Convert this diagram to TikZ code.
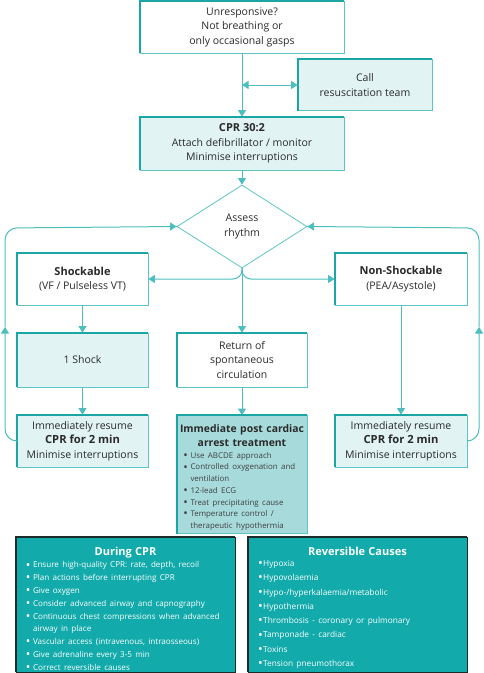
\documentclass[tikz,border=0pt]{standalone}
\usepackage{fontspec}
\setmainfont{Open Sans}
\usetikzlibrary{arrows.meta,shapes.geometric}
\definecolor{tline}{HTML}{4DBDBD}
\definecolor{tthin}{HTML}{5CC4C4}
\definecolor{tthick}{HTML}{1BA6A6}
\definecolor{lfill}{HTML}{E1F3F3}
\definecolor{pfill}{HTML}{A7DBDB}
\definecolor{dfill}{HTML}{12AAAA}
\definecolor{dborder}{HTML}{1D2A2A}
\definecolor{txt}{HTML}{2A2A2A}
\newcommand\bigdot{\raisebox{-0.25ex}{\scalebox{1.5}{\textbullet}}}
\newcommand\mybul[1]{\par\noindent\hangindent=7pt\hangafter=1\makebox[7pt][l]{\bigdot}#1}
\newcommand\tightbul[1]{\par\noindent\bigdot\kern0.5pt#1}
\newcommand\thickedge[2]{\draw[line width=2pt,#2] (#1.south west) -- (#1.north west) -- (#1.north east);}
\begin{document}
\begin{tikzpicture}[x=1pt,y=-1pt,
  bx/.style={draw=tthin, line width=0.8pt, fill=white, rectangle, align=center, inner sep=2pt, text=txt,
    font=\fontsize{10.5}{14.5}\selectfont},
  lbx/.style={bx, fill=lfill},
  ln/.style={draw=tline, line width=1pt},
  arr/.style={ln, -{Triangle[width=8pt,length=6.5pt]}},
  dbx/.style={draw=dborder, line width=0.8pt, fill=dfill, rectangle, inner sep=0pt,
    minimum width=219, minimum height=135},
  dtxt/.style={anchor=north, text=white, inner sep=0pt, text width=199pt, align=center}]
\useasboundingbox (0,0) rectangle (484,673);

\node[bx, minimum width=204, minimum height=52] (unresp) at (242,27) {Unresponsive?\\Not breathing or\\only occasional gasps};
\node[lbx, minimum width=134, minimum height=51] (call) at (365,85) {Call\\resuscitation team};
\node[lbx, minimum width=204, minimum height=53] (cpr) at (242,143.5) {{\fontsize{11}{14.5}\selectfont\bfseries CPR 30:2}\\Attach defibrillator / monitor\\Minimise interruptions};
\node[draw=tthin, line width=0.8pt, diamond, minimum width=130, minimum height=83, inner sep=0pt, align=center, text=txt,
  font=\fontsize{10.5}{14.5}\selectfont] (assess) at (242,226.5) {Assess\\rhythm};
\node[bx, minimum width=131, minimum height=52] (shock) at (82.5,279) {{\fontsize{11}{14.5}\selectfont\bfseries Shockable}\\(VF / Pulseless VT)};
\node[bx, minimum width=132, minimum height=52] (nonshock) at (401,279) {{\fontsize{11}{14.5}\selectfont\bfseries Non-Shockable}\\(PEA/Asystole)};
\node[lbx, minimum width=131, minimum height=54] (oneshock) at (82.5,360) {1 Shock};
\node[bx, minimum width=130, minimum height=54] (rosc) at (242,360) {Return of\\spontaneous\\circulation};
\node[lbx, minimum width=131, minimum height=52] (resumeL) at (82.5,441) {Immediately resume\\{\fontsize{11.2}{14.5}\selectfont\bfseries CPR for 2 min}\\Minimise interruptions};
\node[lbx, minimum width=132, minimum height=52] (resumeR) at (401,441) {Immediately resume\\{\fontsize{11.2}{14.5}\selectfont\bfseries CPR for 2 min}\\Minimise interruptions};
\node[bx, fill=pfill, minimum width=130, minimum height=118, text width=127pt, inner sep=1pt] (post) at (242,474.5)
 {{\fontsize{10.4}{14}\selectfont\bfseries Immediate post cardiac\\arrest treatment\par}
  {\raggedright\leftskip=5pt\fontsize{7.9}{11.7}\selectfont\color{txt!90}
  \mybul{Use ABCDE approach}
  \mybul{Controlled oxygenation and\newline ventilation}
  \mybul{12-lead ECG}
  \mybul{Treat precipitating cause}
  \mybul{Temperature control /\newline therapeutic hypothermia}\par}\vspace{-6pt}};

\node[dbx] (during) at (125.5,604.5) {};
\node[dtxt] (duringtxt) at ([yshift=-10pt]during.north)
 {{\fontsize{11}{14}\selectfont\bfseries During CPR\par}
  {\raggedright\fontsize{8.1}{12.8}\selectfont
  \mybul{Ensure high-quality CPR: rate, depth, recoil}
  \mybul{Plan actions before interrupting CPR}
  \mybul{Give oxygen}
  \mybul{Consider advanced airway and capnography}
  \mybul{Continuous chest compressions when advanced\newline airway in place}
  \mybul{Vascular access (intravenous, intraosseous)}
  \mybul{Give adrenaline every 3-5 min}
  \mybul{Correct reversible causes}\par}};
\node[dbx] (rev) at (357.5,604.5) {};
\node[dtxt] (revtxt) at ([yshift=-10pt]rev.north)
 {{\fontsize{11}{13}\selectfont\bfseries Reversible Causes\par}\vspace{-3pt}
  {\raggedright\fontsize{8.3}{14.3}\selectfont
  \tightbul{Hypoxia}
  \tightbul{Hypovolaemia}
  \tightbul{Hypo-/hyperkalaemia/metabolic}
  \tightbul{Hypothermia}
  \tightbul{Thrombosis - coronary or pulmonary}
  \tightbul{Tamponade - cardiac}
  \tightbul{Toxins}
  \tightbul{Tension pneumothorax}\par}};

\foreach \n in {unresp,call,cpr,shock,nonshock,oneshock,rosc,resumeL,resumeR,post}{\thickedge{\n}{tthick}}
\foreach \n in {during,rev}{\thickedge{\n}{dborder}}

% connectors
\draw[arr] (unresp) -- (cpr);
\draw[ln, {Triangle[width=8pt,length=6.5pt]}-{Triangle[width=8pt,length=6.5pt]}] (unresp.south |- call.west) -- (call.west);
\draw[arr] (cpr) -- (assess.north);
\draw[arr, rounded corners=9pt] (assess.south) |- (shock.east);
\draw[arr, rounded corners=9pt] (assess.south) |- (nonshock.west);
\draw[arr] (assess.south) -- (rosc.north);
\draw[arr] (shock) -- (oneshock);
\draw[arr] (oneshock) -- (resumeL);
\draw[arr] (rosc) -- (post);
\draw[arr] (nonshock) -- (resumeR);

\coordinate (lb) at (5,441);
\coordinate (lm) at (5,327);
\coordinate (lt) at (5,228);
\coordinate (rb) at (479,441);
\coordinate (rm) at (479,327);
\coordinate (rt) at (479,228);
\draw[arr, rounded corners=12pt] (resumeL.west) -- (lb) -- (lm);
\draw[ln, rounded corners=12pt] (lm) -- (lt) -- (assess.west);
\draw[arr] ([xshift=-10pt]assess.west) -- (assess.west);
\draw[arr, rounded corners=12pt] (resumeR.east) -- (rb) -- (rm);
\draw[ln, rounded corners=12pt] (rm) -- (rt) -- (assess.east);
\draw[arr] ([xshift=10pt]assess.east) -- (assess.east);
\end{tikzpicture}
\end{document}
